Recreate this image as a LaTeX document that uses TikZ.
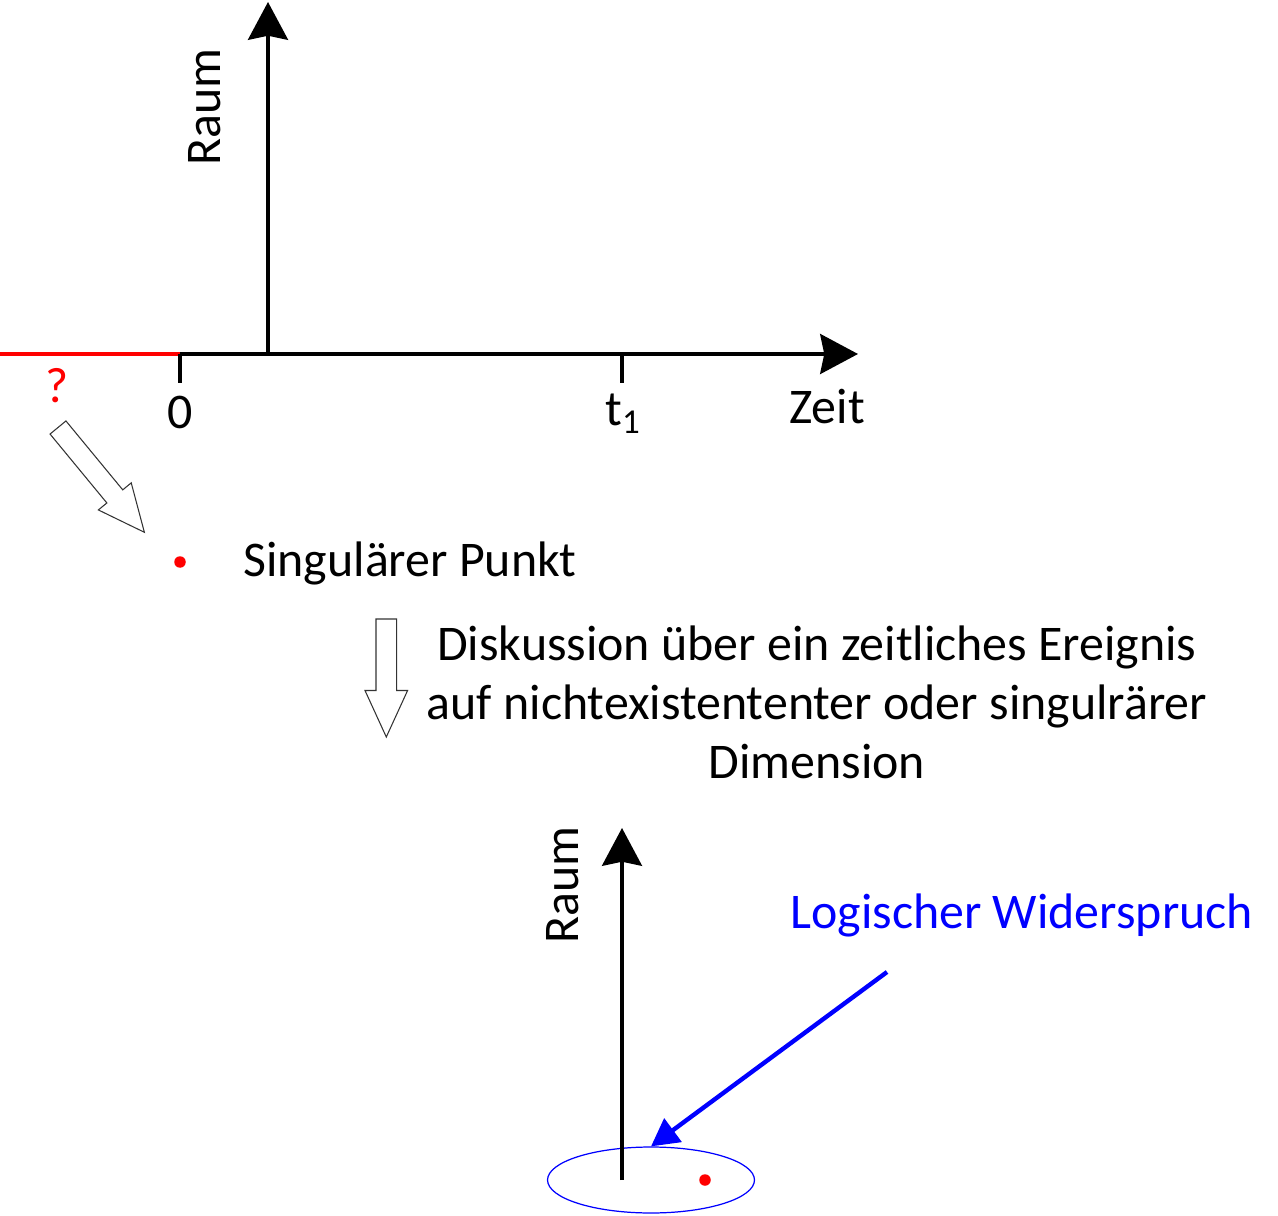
\documentclass[tikz,border=0pt]{standalone}
\usepackage{fontspec}
\setmainfont{Carlito}
\definecolor{pointred}{HTML}{FF0000}
\definecolor{contrablue}{HTML}{0000FF}
\usetikzlibrary{arrows.meta,shapes.geometric}

\tikzset{
  axis/.style={line width=2.2pt,-{Stealth[length=21.5pt,width=22.7pt,inset=2.3pt]}},
  tickmark/.style={line width=2pt},
  label text/.style={font=\fontsize{28.4}{33.8}\selectfont, inner sep=0pt},
  hollow arrow/.style={draw=black!80, line width=0.6pt, fill=white},
  dot/.style={circle, fill=pointred, inner sep=0pt, minimum size=0.23cm},
  contra arrow/.style={contrablue, line width=2.5pt, -{Triangle[length=15.6pt,width=16.3pt]}},
}

% hollow block arrow: tail point, angle, total length
\newcommand{\hollowarrow}[3]{%
  \draw[hollow arrow, shift={(#1)}, rotate=#2]
    (0,10.3) -- ({#3-46.5},10.3) -- ({#3-46.5},21.3) -- (#3,0)
    -- ({#3-46.5},-21.3) -- ({#3-46.5},-10.3) -- (0,-10.3) -- cycle;}

\begin{document}
\begin{tikzpicture}[x=0.02cm,y=-0.02cm]
  \useasboundingbox (0,0) rectangle (1278,1216);

  % Upper diagram: time and space axes
  \coordinate (leftend) at (0,354);
  \coordinate (zero) at (180,354);
  \coordinate (tone) at (622,354);
  \coordinate (timetip) at (858,354);
  \coordinate (raumfoot) at (268,354);
  \coordinate (raumtip) at (268,2);
  \draw[pointred, line width=2pt] (leftend) -- (zero);
  \draw[axis] (zero) -- (timetip);
  \draw[axis] (raumfoot) -- (raumtip);
  \draw[tickmark] (zero) -- ++(0,29);
  \draw[tickmark] (tone) -- ++(0,29);
  \node[label text, anchor=base] (zerolabel) at (180,429) {0};
  \node[label text, anchor=base] (tonelabel) at (623,426) {t\textsubscript{1}};
  \node[label text, anchor=base west] (zeitlabel) at (789,423) {Zeit};
  \node[label text, rotate=90] (raumlabel) at (205,107) {Raum};
  \node[label text, text=pointred, anchor=base] (question) at (57,403) {?};

  % Singular point
  \coordinate (qtail) at (58,427.5);
  \hollowarrow{qtail}{-50.5}{135.8}
  \node[dot] (singdot) at (180,562) {};
  \node[label text, anchor=base west] (singlabel) at (243,576) {Singulärer Punkt};

  \coordinate (dtail) at (386.3,619);
  \hollowarrow{dtail}{-90}{118}
  \node[label text, align=center, anchor=north] (discussion) at (817,625)
    {Diskussion über ein zeitliches Ereignis\\
     auf nichtexistententer oder singulrärer\\
     Dimension};

  % Lower diagram
  \node[draw=contrablue, line width=0.7pt, ellipse, inner sep=0pt,
        minimum width=4.14cm, minimum height=1.32cm] (singzone) at (651,1180) {};
  \node[dot] (zonedot) at (705,1180) {};
  \coordinate (raum2foot) at (622,1180);
  \coordinate (raum2tip) at (622,828);
  \draw[axis, line width=2pt] (raum2foot) -- (raum2tip);
  \node[label text, rotate=90] (raum2label) at (563,885) {Raum};
  \node[label text, text=contrablue, anchor=base west] (contralabel) at (790,928) {Logischer Widerspruch};
  \coordinate (lwtail) at (887,972);
  \draw[contra arrow] (lwtail) -- (singzone.north);
\end{tikzpicture}
\end{document}
